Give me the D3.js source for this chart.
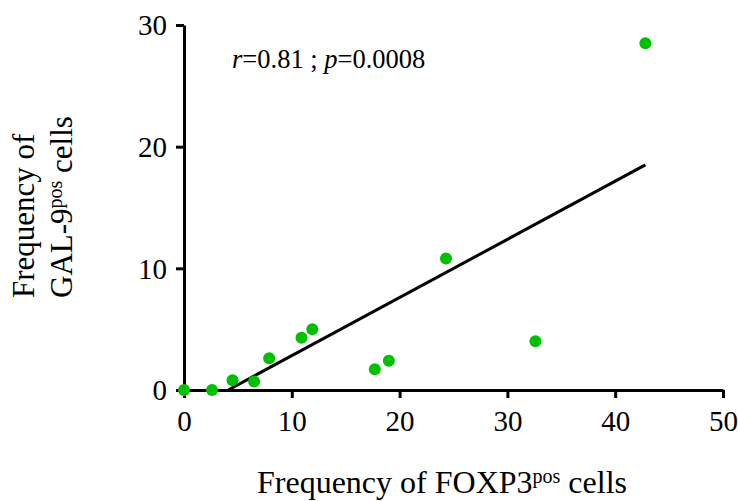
<!DOCTYPE html>
<html>
<head>
<meta charset="utf-8">
<script src="https://cdn.jsdelivr.net/npm/d3@7"></script>
<style>
  html, body { margin: 0; padding: 0; background: #fff; }
  svg { display: block; }
  text { font-family: "Liberation Serif", "Times New Roman", serif; fill: #000; }
</style>
</head>
<body>
<svg id="chart" width="738" height="501"></svg>
<script>
// FOXP3pos vs GAL-9pos frequencies, one point per sample
const foxp3 = [0, 2.6, 4.5, 6.5, 7.9, 10.9, 11.9, 17.7, 19.0, 24.3, 32.6, 42.8];
const gal9  = [0, 0, 0.8, 0.7, 2.6, 4.3, 5.0, 1.7, 2.4, 10.8, 4.0, 28.5];

// linear regression line endpoints
const fitX = [4.1, 42.8];
const fitY = [0, 18.5];

const xTicks = [0, 10, 20, 30, 40, 50];
const yTicks = [0, 10, 20, 30];

const serif = '"Liberation Serif", "Times New Roman", serif';
const svg = d3.select("#chart");
const plot = { left: 184, right: 723, top: 25, bottom: 390 };

const x = d3.scaleLinear().domain([0, 50]).range([plot.left, plot.right]);
const y = d3.scaleLinear().domain([0, 30]).range([plot.bottom, plot.top]);

// axes
const xAxis = svg.append("g")
  .attr("transform", `translate(0,${plot.bottom})`)
  .call(d3.axisBottom(x).tickValues(xTicks).tickSize(8).tickPadding(9).tickSizeOuter(0));
const yAxis = svg.append("g")
  .attr("transform", `translate(${plot.left},0)`)
  .call(d3.axisLeft(y).tickValues(yTicks).tickSize(8).tickPadding(9).tickSizeOuter(0));

[xAxis, yAxis].forEach(g => {
  g.attr("font-family", serif).attr("font-size", 29);
  g.select(".domain").attr("stroke", "#000").attr("stroke-width", 3);
  g.selectAll(".tick line").attr("stroke", "#000").attr("stroke-width", 3);
  g.selectAll(".tick text").attr("fill", "#000");
});
xAxis.selectAll(".tick text").attr("dy", "0.82em");
yAxis.selectAll(".tick text").attr("dy", "0.34em");

// regression line
svg.append("line")
  .attr("x1", x(fitX[0])).attr("y1", y(fitY[0]))
  .attr("x2", x(fitX[1])).attr("y2", y(fitY[1]))
  .attr("stroke", "#000").attr("stroke-width", 3);

// points
svg.append("g").selectAll("circle")
  .data(foxp3.map((v, i) => [v, gal9[i]]))
  .join("circle")
  .attr("cx", d => x(d[0]))
  .attr("cy", d => y(d[1]))
  .attr("r", 6)
  .attr("fill", "#00c000");

// statistics annotation
const stat = svg.append("text")
  .attr("x", 232).attr("y", 68)
  .attr("font-family", serif)
  .attr("font-size", 26.5);
stat.append("tspan").attr("font-style", "italic").text("r");
stat.append("tspan").text("=0.81 ; ");
stat.append("tspan").attr("font-style", "italic").text("p");
stat.append("tspan").text("=0.0008");

// x axis title
const xt = svg.append("text")
  .attr("x", 257).attr("y", 493)
  .attr("font-family", serif)
  .attr("font-size", 32);
xt.append("tspan").text("Frequency of FOXP3");
xt.append("tspan").attr("dy", -10).attr("font-size", 20).text("pos");
xt.append("tspan").attr("dy", 10).text(" cells");

// y axis title (two lines, rotated)
const yt = svg.append("text")
  .attr("transform", "translate(34,298) rotate(-90)")
  .attr("font-family", serif)
  .attr("font-size", 31);
yt.append("tspan").attr("x", 0).attr("y", 0).text("Frequency of");
yt.append("tspan").attr("x", 0).attr("y", 38).text("GAL-9");
yt.append("tspan").attr("dy", -10).attr("font-size", 20).text("pos");
yt.append("tspan").attr("dy", 10).text(" cells");
</script>
</body>
</html>
